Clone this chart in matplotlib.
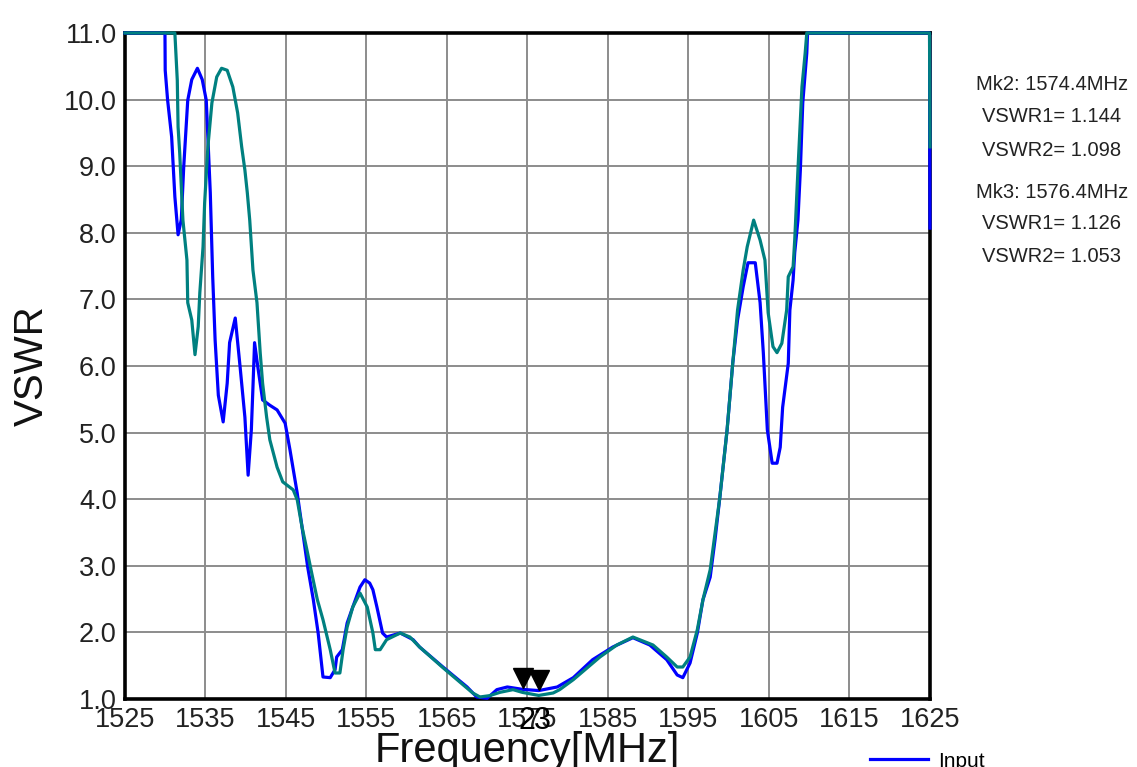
import matplotlib
matplotlib.use("Agg")
import matplotlib.pyplot as plt
import matplotlib.transforms as mtransforms
import numpy as np

plt.rcParams['font.family'] = ['Liberation Sans', 'DejaVu Sans']

# Input trace (VSWR1)
freq_in = [1525, 1529.97, 1530.0, 1530.3, 1530.8, 1531.2, 1531.6, 1532.0, 1532.3, 1532.8,
           1533.3, 1534.0, 1534.6, 1535.1, 1535.6, 1535.9, 1536.2, 1536.6, 1537.2, 1537.7,
           1538.0, 1538.7, 1539.3, 1539.9, 1540.3, 1540.7, 1540.9, 1541.1, 1541.5, 1542.1,
           1543.0, 1543.9, 1544.9, 1545.5, 1546.4, 1547.0, 1547.7, 1548.4, 1549.0, 1549.6,
           1550.5, 1551.1, 1551.3, 1552.0, 1552.6, 1553.3, 1554.2, 1554.8, 1555.4, 1555.8,
           1556.3, 1557.0, 1557.5, 1559.2, 1560.8, 1561.6, 1564.5, 1567.5, 1568.7, 1570.0,
           1571.2, 1572.5, 1574.4, 1576.4, 1578.7, 1580.7, 1583.1, 1585.6, 1588.1, 1590.2,
           1592.3, 1593.6, 1594.3, 1595.2, 1596.1, 1596.8, 1597.7, 1598.3, 1598.9, 1599.8,
           1600.5, 1601.1, 1601.8, 1602.4, 1603.3, 1603.9, 1604.3, 1604.8, 1605.4, 1606.0,
           1606.4, 1606.7, 1607.4, 1607.6, 1608.0, 1608.2, 1608.6, 1608.9, 1609.2, 1609.7,
           1609.8, 1624.95, 1625]
vswr_in = [11, 11, 10.44, 9.99, 9.44, 8.54, 7.97, 8.2, 8.99, 9.99,
           10.3, 10.47, 10.3, 9.99, 8.6, 7.34, 6.39, 5.56, 5.16, 5.74,
           6.35, 6.72, 5.99, 5.23, 4.36, 5.04, 5.68, 6.35, 5.99, 5.49,
           5.41, 5.34, 5.14, 4.74, 4.09, 3.58, 2.98, 2.49, 1.99, 1.33,
           1.32, 1.44, 1.63, 1.74, 2.14, 2.38, 2.68, 2.79, 2.74, 2.64,
           2.38, 1.99, 1.93, 1.99, 1.89, 1.78, 1.48, 1.18, 1.03, 1.01,
           1.14, 1.18, 1.144, 1.126, 1.18, 1.32, 1.59, 1.78, 1.92, 1.81,
           1.59, 1.36, 1.32, 1.54, 1.99, 2.49, 2.83, 3.39, 4.03, 5.04,
           6.04, 6.69, 7.19, 7.55, 7.55, 6.95, 6.20, 5.04, 4.54, 4.54,
           4.78, 5.38, 6.04, 6.84, 7.29, 7.70, 8.19, 8.94, 9.95, 10.70,
           11, 11, 8.07]

# Output trace (VSWR2)
freq_out = [1525, 1531.2, 1531.5, 1531.6, 1531.8, 1532.2, 1532.7, 1532.8, 1533.3, 1533.7,
            1534.1, 1534.3, 1534.7, 1534.9, 1535.3, 1535.8, 1536.4, 1537.0, 1537.7, 1538.4,
            1539.0, 1539.5, 1539.9, 1540.2, 1540.5, 1540.9, 1541.4, 1541.8, 1542.1, 1542.6,
            1543.0, 1543.9, 1544.6, 1545.9, 1546.4, 1547.0, 1547.6, 1548.2, 1548.9, 1549.6,
            1550.5, 1551.1, 1551.7, 1552.1, 1552.6, 1553.3, 1554.2, 1555.1, 1555.8, 1556.1,
            1556.7, 1557.5, 1559.2, 1560.4, 1561.6, 1564.5, 1568.2, 1569.1, 1570.3, 1571.6,
            1573.2, 1574.4, 1576.4, 1578.2, 1579.0, 1580.7, 1584.0, 1586.1, 1588.1, 1590.6,
            1592.3, 1593.6, 1594.3, 1595.2, 1596.1, 1596.8, 1597.7, 1598.9, 1599.8, 1600.5,
            1601.1, 1601.8, 1602.3, 1603.1, 1603.9, 1604.5, 1604.9, 1605.5, 1606.0, 1606.6,
            1607.2, 1607.4, 1608.0, 1608.2, 1608.6, 1609.1, 1609.5, 1609.7, 1624.95, 1625]
vswr_out = [11, 11, 10.29, 9.59, 9.2, 8.19, 7.59, 6.95, 6.69, 6.17,
            6.59, 7.10, 7.79, 8.45, 9.29, 9.95, 10.34, 10.47, 10.44, 10.19,
            9.80, 9.29, 8.94, 8.60, 8.19, 7.44, 6.95, 6.20, 5.74, 5.23,
            4.89, 4.48, 4.26, 4.14, 3.99, 3.58, 3.24, 2.89, 2.49, 2.19,
            1.74, 1.39, 1.39, 1.74, 2.08, 2.38, 2.59, 2.38, 1.99, 1.74,
            1.74, 1.89, 1.99, 1.93, 1.78, 1.47, 1.09, 1.03, 1.05, 1.10,
            1.14, 1.098, 1.053, 1.09, 1.14, 1.29, 1.63, 1.81, 1.93, 1.81,
            1.63, 1.48, 1.48, 1.63, 2.04, 2.49, 2.94, 4.03, 5.04, 6.04,
            6.84, 7.44, 7.79, 8.19, 7.89, 7.59, 6.80, 6.29, 6.20, 6.34,
            6.84, 7.34, 7.49, 7.89, 8.94, 10.19, 10.70, 11, 11, 9.29]

marker_ids = ["2", "3"]
marker_freq = [1574.4, 1576.4]
marker_vswr1 = [1.144, 1.126]
marker_vswr2 = [1.098, 1.053]

x_ticks = np.arange(1525, 1626, 10)
y_ticks = np.arange(1, 12, 1)

fig = plt.figure(figsize=(11.37, 7.67), dpi=100)
ax = fig.add_axes([0.1099, 0.0887, 0.708, 0.8683])

# lines drawn over the frame, as the analyser does at the clipped top and right edge
ax.plot(freq_in, vswr_in, color='#0000ff', lw=2.3, label='Input', zorder=4, clip_on=False)
ax.plot(freq_out, vswr_out, color='#008080', lw=2.3, label='Output', zorder=5, clip_on=False)

# marker triangles, tip sitting on the Input trace
tri_tr = mtransforms.offset_copy(ax.transData, fig=fig, x=0, y=11, units='dots')
ax.plot(marker_freq, marker_vswr1, 'v', color='black', ms=15, transform=tri_tr,
        clip_on=False, zorder=6)
lab_tr = mtransforms.blended_transform_factory(ax.transData, ax.transAxes)
for mid, f in zip(marker_ids, marker_freq):
    ax.text(f, 0, mid, transform=mtransforms.offset_copy(lab_tr, fig=fig, x=4, y=-7, units='dots'),
            ha='center', va='top', fontsize=22, color='black')

ax.set_xlim(1525, 1625)
ax.set_ylim(1, 11)
ax.set_xticks(x_ticks)
ax.set_yticks(y_ticks)
ax.set_yticklabels([f"{v:.1f}" for v in y_ticks])
ax.tick_params(length=0, labelsize=19.5, labelcolor='#222222', pad=6)
ax.grid(True, color='#8c8c8c', lw=1.4)
for s in ax.spines.values():
    s.set_linewidth(2.6)
    s.set_color('black')

ax.set_xlabel("Frequency[MHz]", fontsize=30, labelpad=-2, color='#111111')
ax.set_ylabel("VSWR", fontsize=29, labelpad=9, color='#111111')

info = [f"Mk2: {marker_freq[0]}MHz", f"VSWR1= {marker_vswr1[0]:.3f}", f"VSWR2= {marker_vswr2[0]:.3f}",
        f"Mk3: {marker_freq[1]}MHz", f"VSWR1= {marker_vswr1[1]:.3f}", f"VSWR2= {marker_vswr2[1]:.3f}"]
info_y = [85, 117, 150, 192, 224, 257]
for txt, py in zip(info, info_y):
    fig.text(0.925, 1 - py / 767, txt, ha='center', va='center', fontsize=14.5, color='#222222')

fig.legend(loc='upper left', bbox_to_anchor=(0.765, 0.02), frameon=False,
           fontsize=15, handlelength=2.8, handletextpad=0.5, borderpad=0, borderaxespad=0)

fig.savefig("out.png", dpi=100)
